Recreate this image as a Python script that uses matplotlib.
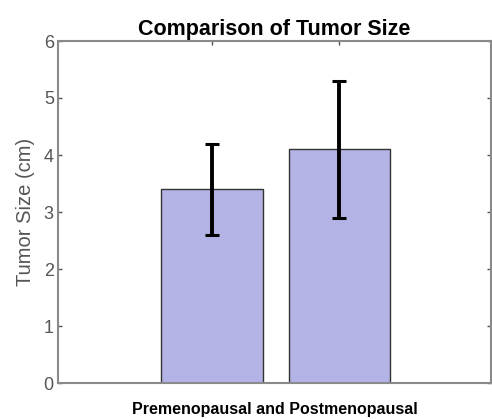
import numpy as np
import matplotlib as mpl
import matplotlib.pyplot as plt

mpl.rcParams["font.family"] = ["Liberation Sans", "DejaVu Sans"]

# data
groups = ["Premenopausal", "Postmenopausal"]
mean_size = [3.4, 4.1]
err_size = [0.8, 1.2]

fig = plt.figure(figsize=(4.92, 4.19), dpi=100)
ax = fig.add_axes([58 / 492, 36 / 419, 433 / 492, 342 / 419])

x = np.arange(1, len(groups) + 1)
ax.bar(x, mean_size, width=0.8, color="#b3b3e6", edgecolor="#333333",
       linewidth=1.0, zorder=2)
ax.errorbar(x, mean_size, yerr=err_size, fmt="none", ecolor="black",
            elinewidth=2.8, capsize=5, capthick=2.2, zorder=3)

ax.set_xlim(-0.21, 3.19)
ax.set_ylim(0, 6)
ax.set_xticks(x)
ax.set_xticklabels([])
ax.set_yticks(range(0, 7))

gray = "#8a8a8a"
for s in ax.spines.values():
    s.set_color(gray)
    s.set_linewidth(1.5)
ax.tick_params(direction="in", length=3, width=1, color="#555555",
               top=True, right=True, labelsize=13, labelcolor="#555555", pad=3)

ax.set_title("Comparison of Tumor Size", fontsize=15.5, fontweight="bold", pad=4)
ax.set_xlabel("Premenopausal and Postmenopausal", fontsize=11.5,
              fontweight="bold", labelpad=11)
ax.set_ylabel("Tumor Size (cm)", fontsize=14.5, color="#555555", labelpad=6)

fig.savefig("out.png", dpi=100)
